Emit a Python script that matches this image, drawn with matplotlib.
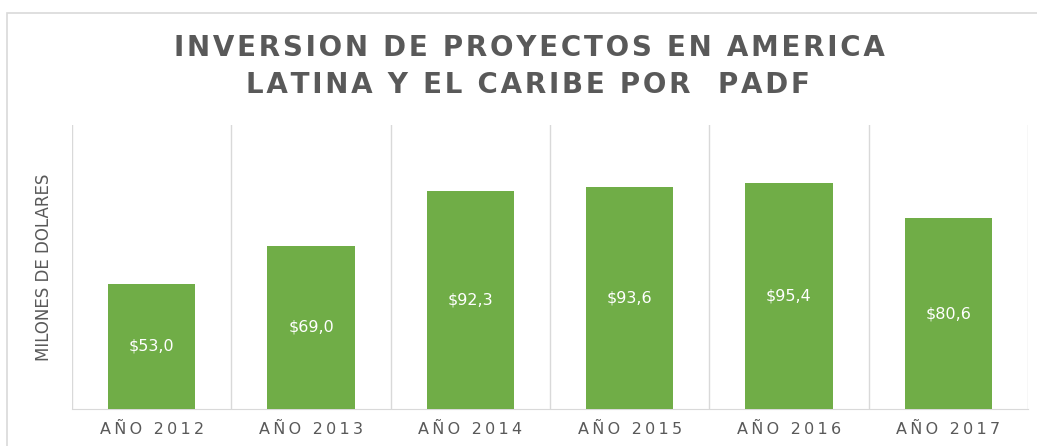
import matplotlib
matplotlib.use("Agg")
import matplotlib.pyplot as plt
from matplotlib.patches import Rectangle

# datos del grafico
years = ["AÑO 2012", "AÑO 2013", "AÑO 2014", "AÑO 2015", "AÑO 2016", "AÑO 2017"]
amounts = [53.0, 69.0, 92.3, 93.6, 95.4, 80.6]
value_labels = ["$53,0", "$69,0", "$92,3", "$93,6", "$95,4", "$80,6"]

green = "#70AD47"
grey_text = "#595959"
grid_color = "#D9D9D9"

fig = plt.figure(figsize=(10.37, 4.46), dpi=100)
ax = fig.add_axes([72 / 1037, 37 / 446, (1028 - 72) / 1037, (409 - 125) / 446])

# marco exterior del grafico
fig.add_artist(Rectangle((7 / 1037, -0.1), 1.2, (446 - 13) / 446 + 0.1,
                         transform=fig.transFigure, fill=False,
                         edgecolor=grid_color, linewidth=1.2))

x = list(range(len(years)))
bars = ax.bar(x, amounts, width=0.55, color=green, zorder=3)

for b, lab in zip(bars, value_labels):
    ax.text(b.get_x() + b.get_width() / 2, b.get_height() / 2, lab,
            ha="center", va="center", color="white", fontsize=11.5, zorder=4)

# lineas verticales entre categorias
for xv in range(len(years) + 1):
    ax.axvline(xv - 0.5, color=grid_color, linewidth=1, zorder=1)

ax.set_xlim(-0.5, len(years) - 0.5)
ax.set_ylim(0, 120)
ax.set_yticks([])
ax.set_xticks(x)
ax.set_xticklabels(["\u2009".join(y) for y in years], fontsize=11.5, color=grey_text)
ax.tick_params(axis="x", length=0, pad=9)
for s in ["top", "left", "right"]:
    ax.spines[s].set_visible(False)
ax.spines["bottom"].set_color(grid_color)

ax.set_ylabel("MILONES DE DOLARES", fontsize=12, color=grey_text, labelpad=14)

title1 = "\u200a".join("INVERSION DE PROYECTOS EN AMERICA")
title2 = "\u200a".join("LATINA Y EL CARIBE POR  PADF")
fig.text(529 / 1037, 1 - 48 / 446, title1, ha="center", va="center",
         fontsize=20, fontweight="bold", color=grey_text)
fig.text(528 / 1037, 1 - 85 / 446, title2, ha="center", va="center",
         fontsize=20, fontweight="bold", color=grey_text)

fig.savefig("out.png", dpi=100)
